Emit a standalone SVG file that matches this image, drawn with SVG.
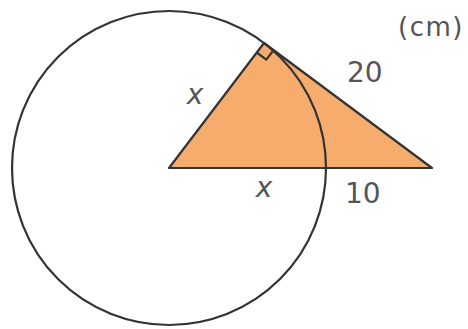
<svg xmlns="http://www.w3.org/2000/svg" width="468" height="329" viewBox="0 0 468 329">
<style>
.ln{fill:none;stroke:#333;stroke-width:2.2;stroke-linejoin:round}
.lbl{font-family:"DejaVu Sans",sans-serif;fill:#555}
.it{font-style:italic}
</style>
<rect width="468" height="329" fill="#fff"/>
<g id="triangle">
<polygon points="169,168 264,43 432,168" fill="#F6AC6C" stroke="#333" stroke-width="2.2" stroke-linejoin="round"/>
<polyline class="ln" points="256.7,52.5 266.3,59.7 273.6,50.2" stroke-width="1.5"/>
</g>
<g id="circle">
<circle class="ln" cx="169" cy="168" r="157"/>
</g>
<g id="labels">
<text class="lbl it" x="195" y="104" font-size="28" text-anchor="middle">x</text>
<text class="lbl it" x="264" y="197" font-size="28" text-anchor="middle">x</text>
<text class="lbl" x="347" y="82" font-size="28">20</text>
<text class="lbl" x="345" y="203" font-size="28">10</text>
<text class="lbl" x="398" y="36" font-size="26" letter-spacing="1.5">(cm)</text>
</g>
</svg>
